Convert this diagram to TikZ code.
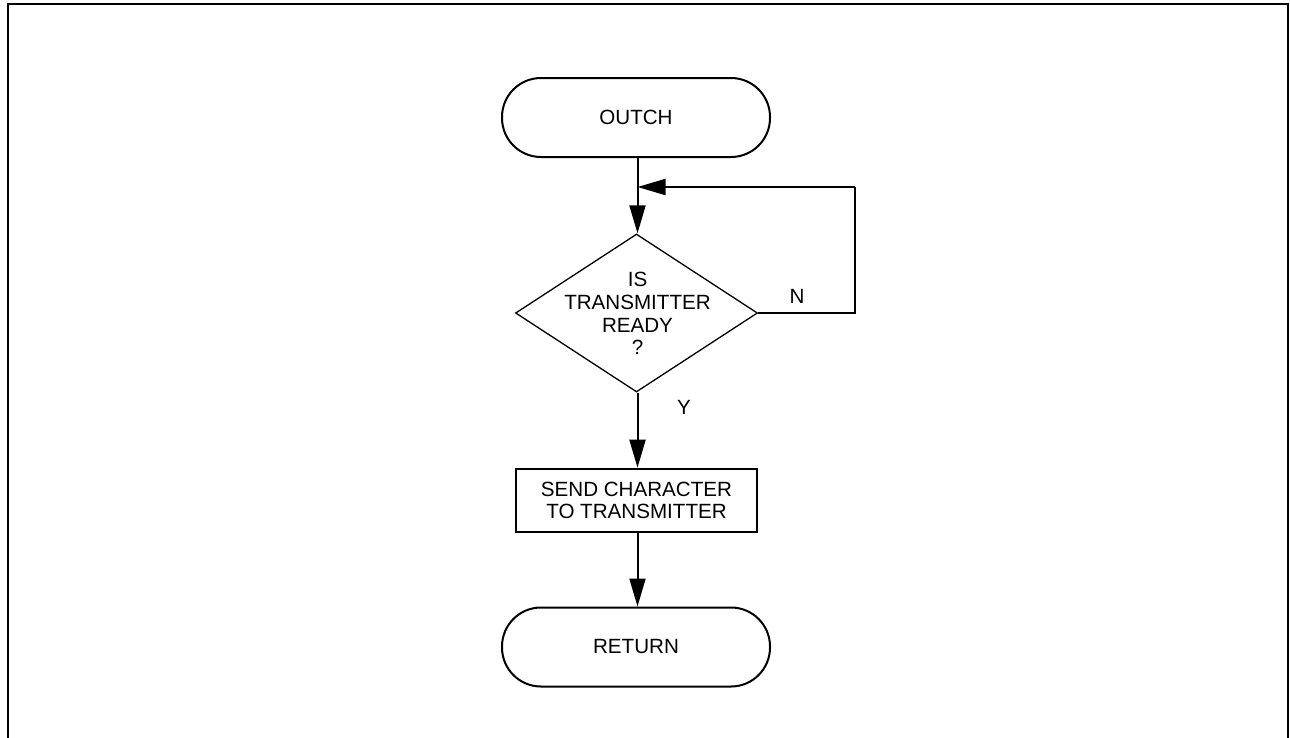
\documentclass[tikz,border=0pt]{standalone}
\usepackage{fontspec}
\setmainfont{Liberation Sans}
\usetikzlibrary{shapes.geometric,arrows.meta}
\begin{document}
\begin{tikzpicture}[x=1pt,y=-1pt,
  font=\fontsize{20.6}{22.7}\selectfont,
  term/.style={draw,line width=2pt,rectangle,rounded corners=39pt,minimum width=268pt,minimum height=79pt,inner sep=0pt},
  decide/.style={draw,line width=1.3pt,diamond,minimum width=242pt,minimum height=158pt,inner sep=0pt},
  procbox/.style={draw,line width=2.6pt,rectangle,minimum width=241pt,minimum height=63pt,inner sep=0pt,align=center},
  conn/.style={line width=2pt},
  arr/.style={conn,-{Triangle[length=28pt,width=16pt]}},
  lbl/.style={inner sep=0pt,anchor=center}]
\useasboundingbox (0,0) rectangle (1290,737);
\draw[line width=2pt] (7.7,740) -- (7.7,4.3) -- (1288,4.3) -- (1288,740);
\node[term] (start) at (636,117.5) {OUTCH};
\node[decide] (dec) at (636.5,313) {};
\node[lbl,align=center] (dectext) at (637.5,313.5) {IS\\TRANSMITTER\\READY\\?};
\node[procbox,font=\fontsize{20.6}{21.5}\selectfont] (box) at (636.5,500.5) {SEND CHARACTER\\TO TRANSMITTER};
\node[term] (ret) at (636,647) {RETURN};
\coordinate (join) at (637.5,187);
\coordinate (corner2) at (855,187);
\draw[arr] (start.south -| join) -- (dec.north -| join);
\draw[conn] (dec.east) -- (dec.east -| corner2) -- (corner2);
\draw[arr] (corner2) -- (join);
\draw[arr] (dec.south -| join) -- (box.north -| join);
\draw[arr] (box.south -| join) -- (ret.north -| join);
\node[lbl] (nlbl) at (797,296) {N};
\node[lbl] (ylbl) at (684,407) {Y};
\end{tikzpicture}
\end{document}
